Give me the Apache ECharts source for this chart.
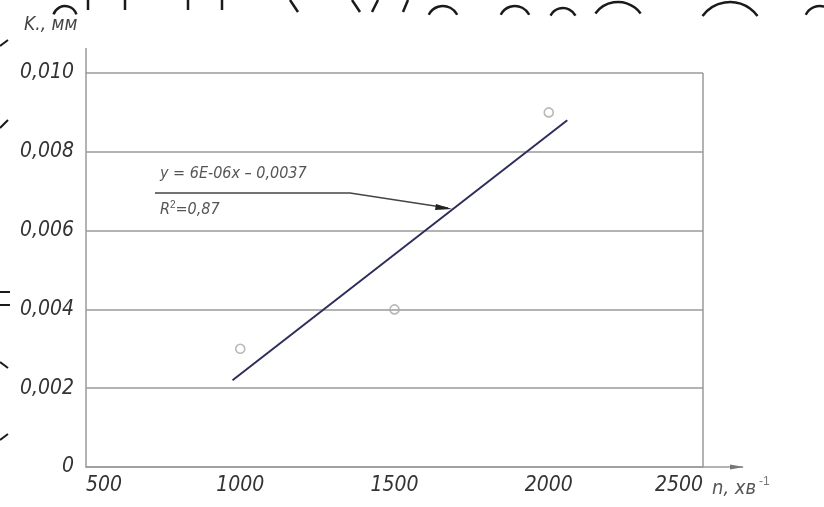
<!DOCTYPE html>
<html>
<head>
<meta charset="utf-8">
<script src="https://cdn.jsdelivr.net/npm/echarts@6/dist/echarts.min.js"></script>
<style>
  html, body { margin: 0; padding: 0; background: #fff; }
  #chart { width: 824px; height: 507px; }
</style>
</head>
<body>
<div id="chart"></div>
<script>
  // measured points
  const speedN = [1000, 1500, 2000]
  const wearK = [0.003, 0.004, 0.009]
  // trend line ends
  const trendN = [975, 2060]
  const trendK = [0.0022, 0.0088]
  const xTicks = [500, 1000, 1500, 2000, 2500]
  const yTicks = [0, 0.002, 0.004, 0.006, 0.008, 0.010]

  const labelFont = 'Liberation Sans Narrow, DejaVu Sans Condensed, sans-serif'
  const gridColor = '#9a9a9a'

  let chart = echarts.init(document.getElementById('chart'))

  let option = {
    animation: false,
    backgroundColor: '#fff',
    grid: { left: 86, right: 121, top: 73, bottom: 40 },
    xAxis: {
      type: 'value',
      min: xTicks[0],
      max: xTicks[xTicks.length - 1],
      interval: 500,
      axisLine: { show: true, lineStyle: { color: gridColor, width: 1.5 } },
      axisTick: { show: false },
      splitLine: { show: false },
      axisLabel: {
        color: '#333',
        fontFamily: labelFont,
        fontStyle: 'italic',
        fontSize: 21,
        margin: 8,
        alignMinLabel: 'left',
        alignMaxLabel: 'right',
        formatter: v => String(v)
      }
    },
    yAxis: {
      type: 'value',
      min: yTicks[0],
      max: yTicks[yTicks.length - 1],
      interval: 0.002,
      axisLine: { show: true, lineStyle: { color: gridColor, width: 1.5 } },
      axisTick: { show: false },
      splitLine: { show: true, lineStyle: { color: gridColor, width: 1.5 } },
      axisLabel: {
        color: '#333',
        fontFamily: labelFont,
        fontStyle: 'italic',
        fontSize: 21,
        margin: 12,
        formatter: v => v === 0 ? '0' : v.toFixed(3).replace('.', ',')
      }
    },
    series: [
      {
        type: 'line',
        data: trendN.map((n, i) => [n, trendK[i]]),
        symbol: 'none',
        lineStyle: { color: '#2e2e5a', width: 2 },
        markLine: {
          silent: true,
          symbol: 'none',
          label: { show: false },
          lineStyle: { color: gridColor, width: 1.5, type: 'solid' },
          data: [[{ coord: [xTicks[4], yTicks[0]] }, { coord: [xTicks[4], yTicks[5]] }]]
        }
      },
      {
        type: 'scatter',
        data: speedN.map((n, i) => [n, wearK[i]]),
        symbol: 'circle',
        symbolSize: 9,
        z: 5,
        itemStyle: { color: 'rgba(255,255,255,0)', borderColor: '#a8a8a8', borderWidth: 1.6 }
      }
    ]
  }
  chart.setOption(option)

  // axis extensions, names, equation note and scan marks
  const p0 = chart.convertToPixel({ gridIndex: 0 }, [xTicks[0], yTicks[0]])
  const pMax = chart.convertToPixel({ gridIndex: 0 }, [xTicks[4], yTicks[5]])
  const ink = '#1a1a1a'
  const arc = (cx, cy, r, a0, a1) => ({
    type: 'arc', shape: { cx: cx, cy: cy, r: r, startAngle: a0, endAngle: a1 },
    style: { stroke: ink, lineWidth: 2.5, fill: null }
  })
  const seg = (x1, y1, x2, y2, w) => ({
    type: 'line', shape: { x1: x1, y1: y1, x2: x2, y2: y2 },
    style: { stroke: ink, lineWidth: w || 2.5 }
  })

  chart.setOption({
    graphic: [
      // y axis goes a bit above 0,010
      { type: 'line', shape: { x1: p0[0], y1: pMax[1], x2: p0[0], y2: 48 }, style: { stroke: gridColor, lineWidth: 1.5 } },
      // x axis runs past 2500 with a small arrow
      { type: 'line', shape: { x1: pMax[0], y1: p0[1], x2: 743, y2: p0[1] }, style: { stroke: gridColor, lineWidth: 1.5 } },
      { type: 'polygon', shape: { points: [[744, p0[1]], [730, p0[1] - 2.5], [730, p0[1] + 2.5]] }, style: { fill: '#777' } },
      {
        type: 'text', left: 24, top: 16,
        style: { text: 'K., мм', font: 'italic 19px ' + labelFont, fill: '#444' }
      },
      {
        type: 'text', left: 712, top: 476,
        style: {
          text: 'n, хв{s|-1}', font: 'italic 20px ' + labelFont, fill: '#555',
          rich: { s: { fontSize: 12, verticalAlign: 'top', padding: [0, 0, 14, 3], fill: '#777' } }
        }
      },
      {
        type: 'text', left: 160, top: 166,
        style: { text: 'y = 6E-06x – 0,0037', font: 'italic 16px ' + labelFont, fill: '#555' }
      },
      {
        type: 'text', left: 160, top: 200,
        style: {
          text: 'R{s|2}=0,87', font: 'italic 16px ' + labelFont, fill: '#555',
          rich: { s: { fontSize: 10, padding: [0, 0, 9, 0], fill: '#555' } }
        }
      },
      { type: 'polyline', shape: { points: [[155, 193], [350, 193], [448, 208]] }, style: { stroke: '#444', lineWidth: 1.5, fill: null } },
      { type: 'polygon', shape: { points: [[452, 209], [436, 204], [435, 210]] }, style: { fill: '#222' } },
      // scan marks of the page above and left
      arc(65, 18, 12, Math.PI * 1.1, Math.PI * 1.9),
      seg(88, 0, 88, 10), seg(125, 0, 125, 10), seg(188, 0, 188, 10), seg(222, 0, 222, 10),
      seg(290, 0, 298, 12), seg(352, 0, 360, 12), seg(378, 0, 372, 12), seg(408, 0, 403, 12),
      arc(443, 22, 16, Math.PI * 1.15, Math.PI * 1.85),
      arc(515, 22, 16, Math.PI * 1.15, Math.PI * 1.85),
      arc(563, 22, 14, Math.PI * 1.15, Math.PI * 1.85),
      arc(618, 30, 28, Math.PI * 1.2, Math.PI * 1.8),
      arc(730, 36, 34, Math.PI * 1.2, Math.PI * 1.8),
      arc(820, 22, 16, Math.PI * 1.15, Math.PI * 1.6),
      seg(0, 46, 8, 40, 2), seg(0, 128, 8, 120, 2), seg(0, 292, 10, 292, 2), seg(0, 305, 10, 305, 2),
      seg(0, 362, 8, 368, 2), seg(0, 440, 8, 434, 2)
    ]
  })

  window.addEventListener('resize', () => {
    chart.resize()
  })
</script>
</body>
</html>
